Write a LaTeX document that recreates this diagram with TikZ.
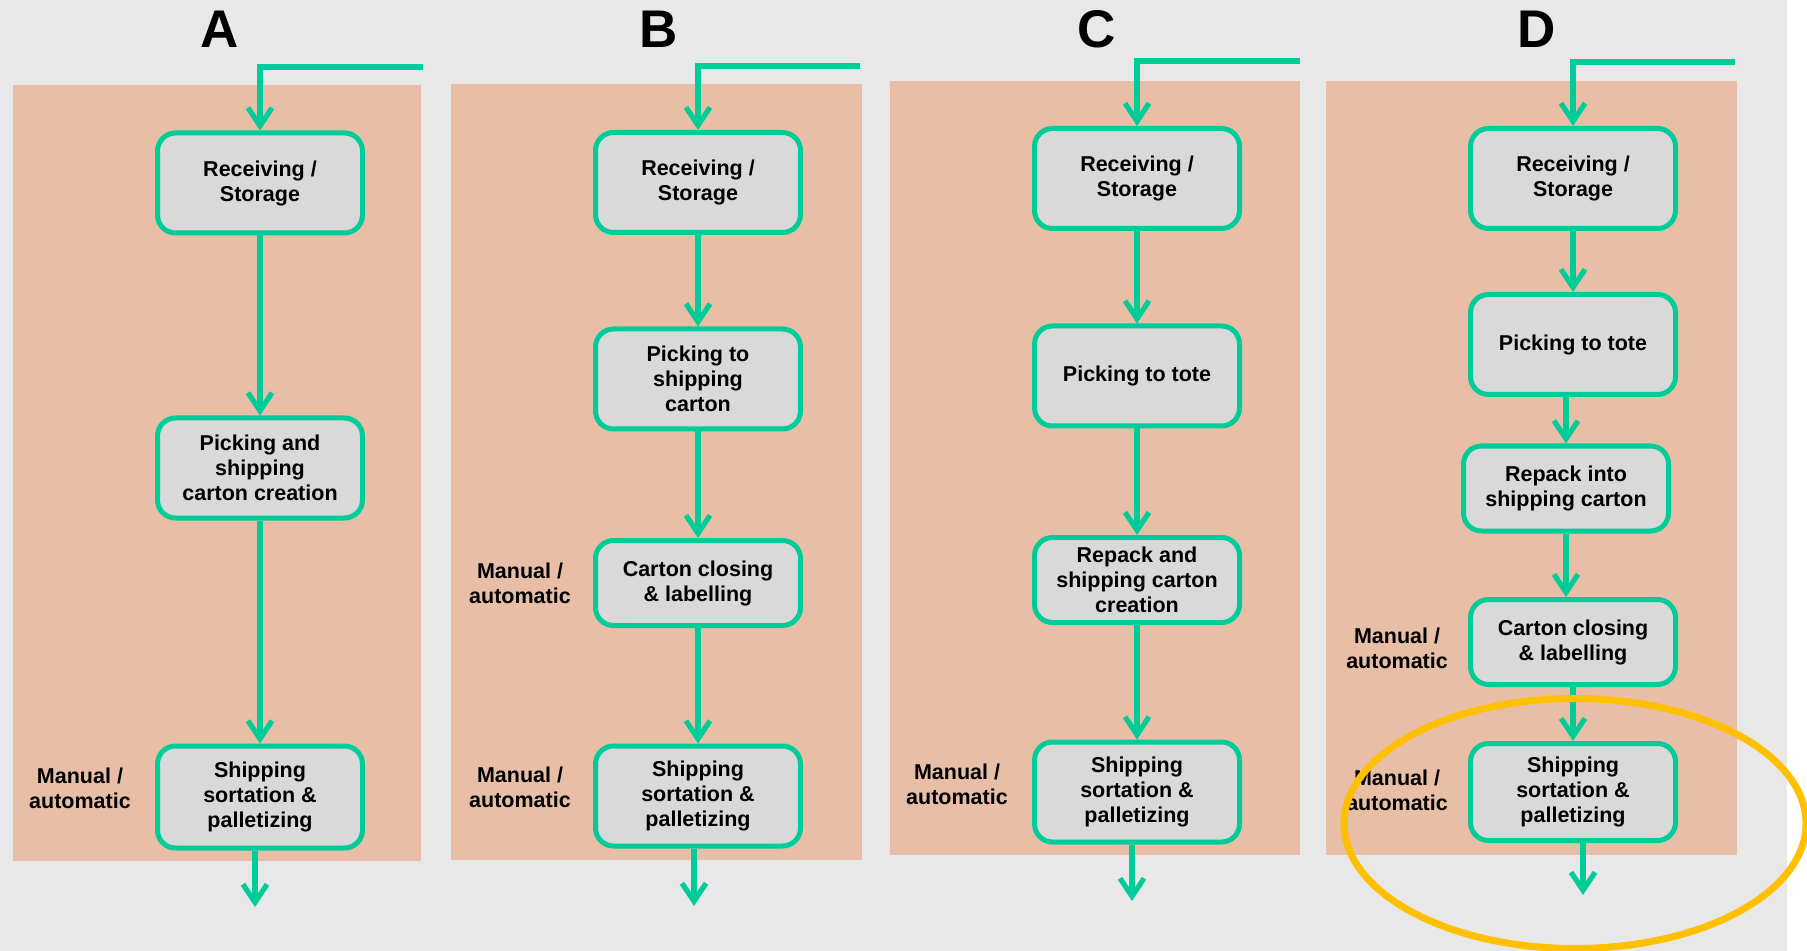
\documentclass[tikz,border=0pt]{standalone}
\usepackage{fontspec}
\setmainfont{Liberation Sans}
\definecolor{flowgreen}{RGB}{0,204,153}
\definecolor{boxgrey}{RGB}{217,217,217}
\definecolor{panelsalmon}{RGB}{232,191,166}
\definecolor{pagegrey}{RGB}{232,232,232}
\definecolor{ringgold}{RGB}{255,192,0}
\usetikzlibrary{arrows.meta}

\begin{document}
\begin{tikzpicture}[x=0.5pt, y=-0.5pt,
  every node/.style={font=\fontsize{10.75pt}{12.5pt}\selectfont\bfseries, align=center},
  bx/.style={rounded corners=9pt, draw=flowgreen, fill=boxgrey, line width=2.5pt, minimum width=102.5pt, minimum height=50pt, inner sep=2pt},
  sbx/.style={bx, minimum height=42.5pt},
  flow/.style={draw=flowgreen, line width=2.6pt, -{Straight Barb[length=9pt,width=12pt]}},
  title/.style={font=\fontsize{26.5pt}{30pt}\selectfont\bfseries}]
\useasboundingbox (0,0) rectangle (1807,951);
% Background and panels
\fill[pagegrey] (0,0) rectangle (1787,951);
\fill[white] (1787,0) rectangle (1807,951);
\fill[panelsalmon] (13,85) rectangle (421,861);
\fill[panelsalmon] (451,84) rectangle (862,860);
\fill[panelsalmon] (890,81) rectangle (1300,855);
\fill[panelsalmon] (1326,81) rectangle (1737,855);
% Titles
\node[title] (tA) at (220,29) {A};
\node[title] (tB) at (659,29) {B};
\node[title] (tC) at (1097,29) {C};
\node[title] (tD) at (1537,29) {D};
% Panel A
\coordinate (inA) at (423,67);
\coordinate (outA) at (255,907);
\node[bx] (recvA) at (260,183) {Receiving /\\Storage};
\node[bx] (pickA) at (260,468) {Picking and\\shipping\\carton creation};
\node[bx, minimum height=51pt] (sortA) at (260,797) {Shipping\\sortation \&\\palletizing};
\node (manA) at (80,788) {Manual /\\automatic};
\draw[flow] (inA) -| (recvA.north);
\draw[flow] (recvA) -- (pickA);
\draw[flow] (pickA) -- (sortA);
\draw[flow] (sortA.south -| outA) -- (outA);
% Panel B
\coordinate (inB) at (860,66);
\coordinate (outB) at (694,906);
\node[bx] (recvB) at (698,182.5) {Receiving /\\Storage};
\node[bx] (pickB) at (698,379) {Picking to\\shipping\\carton};
\node[sbx] (closeB) at (698,583) {Carton closing\\\& labelling};
\node[bx] (sortB) at (698,796) {Shipping\\sortation \&\\palletizing};
\node (manB1) at (520,583) {Manual /\\automatic};
\node (manB2) at (520,787) {Manual /\\automatic};
\draw[flow] (inB) -| (recvB.north);
\draw[flow] (recvB) -- (pickB);
\draw[flow] (pickB) -- (closeB);
\draw[flow] (closeB) -- (sortB);
\draw[flow] (sortB.south -| outB) -- (outB);
% Panel C
\coordinate (inC) at (1300,61);
\coordinate (outC) at (1132,901);
\node[bx] (recvC) at (1137,178.5) {Receiving /\\Storage};
\node[bx] (toteC) at (1137,376) {Picking to tote};
\node[sbx, inner ysep=0pt] (repackC) at (1137,580) {Repack and\\shipping carton\\creation};
\node[bx] (sortC) at (1137,792) {Shipping\\sortation \&\\palletizing};
\node (manC) at (957,784) {Manual /\\automatic};
\draw[flow] (inC) -| (recvC.north);
\draw[flow] (recvC) -- (toteC);
\draw[flow] (toteC) -- (repackC);
\draw[flow] (repackC) -- (sortC);
\draw[flow] (sortC.south -| outC) -- (outC);
% Panel D
\coordinate (inD) at (1735,62);
\coordinate (outD) at (1583,895);
\node[bx] (recvD) at (1573,178.5) {Receiving /\\Storage};
\node[bx] (toteD) at (1573,344.5) {Picking to tote};
\node[sbx] (repackD) at (1566,488.5) {Repack into\\shipping carton};
\node[sbx] (closeD) at (1573,642) {Carton closing\\\& labelling};
\node[bx, minimum height=48.5pt] (sortD) at (1573,792) {Shipping\\sortation \&\\palletizing};
\node (manD1) at (1397,648) {Manual /\\automatic};
\node (manD2) at (1397,790) {Manual /\\automatic};
\draw[flow] (inD) -| (recvD.north);
\draw[flow] (recvD) -- (toteD);
\draw[flow] (toteD.south -| repackD) -- (repackD);
\draw[flow] (repackD) -- (repackD |- closeD.north);
\draw[flow] (closeD) -- (sortD);
\draw[flow] (sortD.south -| outD) -- (outD);
% Highlight
\draw[ringgold, line width=3.5pt] (1575,823.5) ellipse [x radius=231, y radius=125];
\end{tikzpicture}
\end{document}
